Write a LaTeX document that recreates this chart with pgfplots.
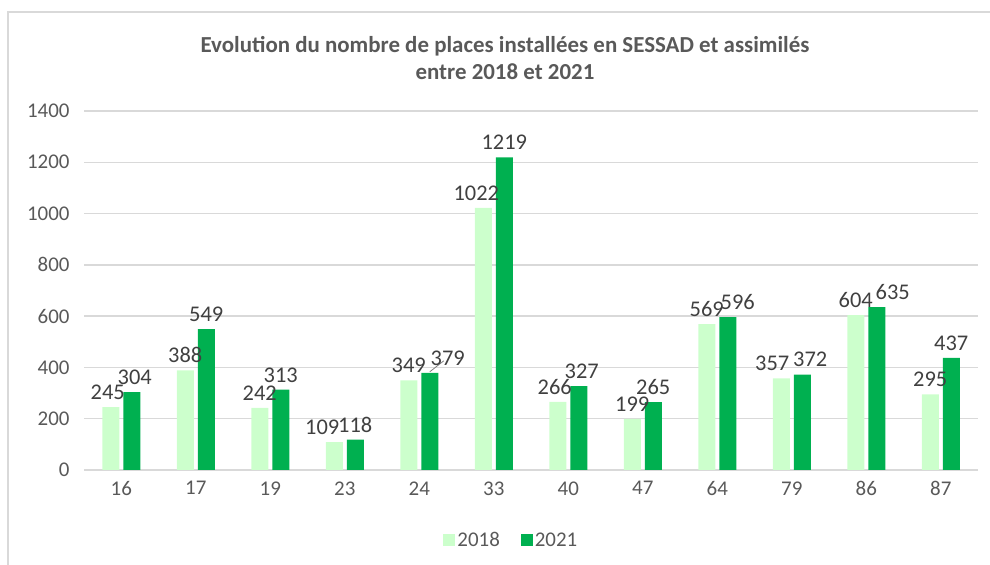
\documentclass[border=0pt]{standalone}
\usepackage{pgfplots}
\pgfplotsset{compat=1.18}
\usepackage{fontspec}
\setmainfont{Carlito}
\definecolor{lightg}{HTML}{CCFFCC}
\definecolor{darkg}{HTML}{00B050}
\definecolor{gridc}{HTML}{D9D9D9}
\definecolor{tickc}{HTML}{595959}
\definecolor{labc}{HTML}{404040}

% x = category index, dx = horizontal shift of the data label (bp)
\begin{document}
\begin{tikzpicture}[x=1bp,y=1bp]
\useasboundingbox (0,0) rectangle (990,565);
\draw[gridc, line width=2bp] (7.5,0) -- (7.5,553) -- (990,553);
\node[font=\fontsize{23}{27}\selectfont\bfseries, text=tickc, align=center]
  at (505,507) {Evolution du nombre de places installées en SESSAD et assimilés\\entre 2018 et 2021};
\begin{axis}[
    at={(84bp,95bp)}, anchor=south west,
    scale only axis,
    width=894bp, height=359bp,
    ybar, bar width=17bp,
    xmin=-0.5, xmax=11.5,
    ymin=0, ymax=1400,
    ytick={0,200,...,1400},
    xtick={0,...,11},
    xticklabels={16,17,19,23,24,33,40,47,64,79,86,87},
    axis line style={draw=none},
    major tick length=0pt,
    ymajorgrids,
    grid style={gridc, line width=1.4bp},
    /pgf/number format/assume math mode=true,
    /pgf/number format/set thousands separator={},
    tick label style={font=\fontsize{21}{24}\selectfont, text=tickc},
    yticklabel style={xshift=-11bp},
    xticklabel style={yshift=-8bp},
    nodes near coords,
    every node near coord/.append style={font=\fontsize{22.5}{26}\selectfont, text=labc, yshift=4bp, xshift=\dx bp},
    visualization depends on={\thisrow{dx} \as \dx},
    legend columns=2,
    legend style={at={(0.478,-0.195)}, anchor=center, draw=none, fill=none,
        font=\fontsize{21}{24}\selectfont, text=tickc,
        /tikz/every even column/.append style={column sep=19bp}},
    legend image code/.code={\fill[#1] (0bp,-6bp) rectangle (12bp,6bp);},
]
\addplot[fill=lightg, draw=none, bar shift=-10.5bp] table[x=x, y=y] {
x y dx
0 245 -3
1 388 0
2 242 0
3 109 -12
4 349 0
5 1022 -7
6 266 -3
7 199 0
8 569 0
9 357 -9
10 604 0
11 295 0
};
\addlegendentry{2018}
\addplot[fill=darkg, draw=none, bar shift=10.5bp] table[x=x, y=y] {
x y dx
0 304 3
1 549 0
2 313 0
3 118 0
4 379 18
5 1219 0
6 327 3
7 265 0
8 596 10
9 372 8
10 635 16
11 437 0
};
\addlegendentry{2021}
\draw[gray, line width=0.8bp] (axis cs:4,379) ++(10.5bp,1bp) -- ++(14bp,11bp);
\end{axis}
\end{tikzpicture}
\end{document}
